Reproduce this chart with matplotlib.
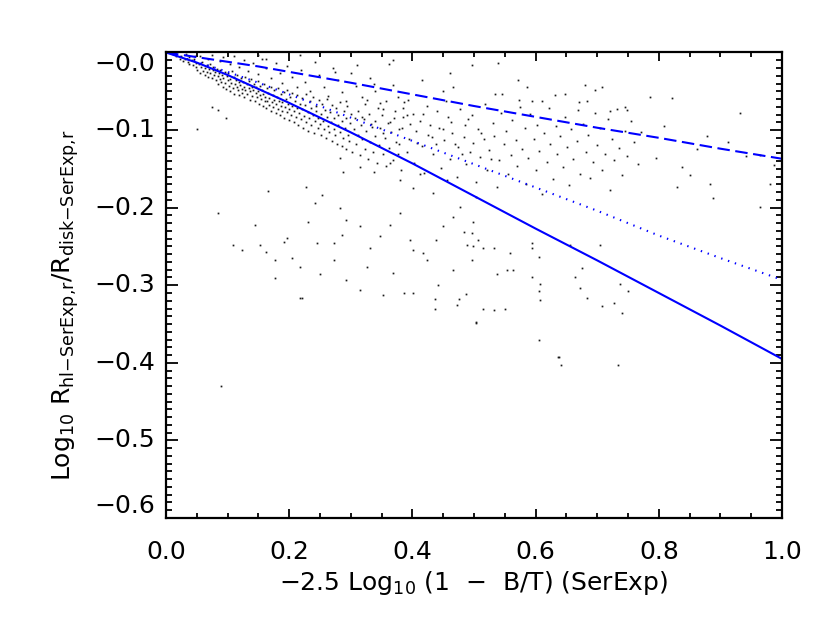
import numpy as np
import matplotlib
matplotlib.use("Agg")
import matplotlib.pyplot as plt
import matplotlib.transforms as mtransforms

plt.rcParams["font.family"] = ["DejaVu Sans"]
plt.rcParams["mathtext.fontset"] = "dejavusans"
plt.rcParams["lines.scale_dashes"] = False

# model curves
curve_x = [0.0, 0.05, 0.1, 0.15, 0.2, 0.25, 0.3, 0.4, 0.5, 0.6, 0.7, 0.8, 0.9, 1.0]
solid_y = [0.0, -0.013, -0.029, -0.047, -0.065, -0.084, -0.103, -0.143, -0.185, -0.227, -0.268, -0.310, -0.352, -0.395]
dotted_y = [0.0, -0.012, -0.025, -0.039, -0.054, -0.069, -0.084, -0.114, -0.144, -0.174, -0.204, -0.236, -0.265, -0.293]
dashed_y = [0.0, -0.006, -0.012, -0.018, -0.025, -0.032, -0.039, -0.054, -0.069, -0.083, -0.097, -0.110, -0.124, -0.137]

# galaxies: dense band close to the origin
band_pts = [
    (0.016, -0.004), (0.022, -0.009), (0.025, -0.005), (0.027, -0.011), (0.031, -0.008), (0.035, -0.012),
    (0.037, -0.006), (0.038, -0.015), (0.042, -0.010), (0.044, -0.016), (0.046, -0.008), (0.048, -0.019),
    (0.049, -0.013),
    (0.051, -0.022), (0.054, -0.015), (0.055, -0.026), (0.057, -0.019), (0.059, -0.012), (0.060, -0.024),
    (0.063, -0.020), (0.063, -0.029), (0.066, -0.016), (0.067, -0.025), (0.068, -0.031), (0.070, -0.021),
    (0.072, -0.015), (0.072, -0.027), (0.075, -0.033), (0.076, -0.022), (0.077, -0.019), (0.078, -0.029),
    (0.080, -0.025),
    (0.081, -0.036), (0.082, -0.021), (0.084, -0.030), (0.084, -0.041), (0.086, -0.026), (0.088, -0.034),
    (0.088, -0.022), (0.090, -0.038), (0.091, -0.029), (0.093, -0.044), (0.093, -0.033), (0.095, -0.025),
    (0.096, -0.039), (0.097, -0.047), (0.099, -0.030), (0.100, -0.036), (0.101, -0.027), (0.102, -0.043),
    (0.104, -0.050), (0.104, -0.034), (0.106, -0.039), (0.107, -0.024), (0.108, -0.046), (0.110, -0.031),
    (0.111, -0.053), (0.112, -0.040), (0.113, -0.036), (0.115, -0.044), (0.116, -0.029), (0.117, -0.049),
    (0.118, -0.038), (0.119, -0.055), (0.120, -0.042),
    (0.121, -0.033), (0.123, -0.047), (0.123, -0.052), (0.125, -0.038), (0.126, -0.044), (0.127, -0.058),
    (0.129, -0.031), (0.129, -0.049), (0.131, -0.041), (0.132, -0.054), (0.134, -0.037), (0.134, -0.046),
    (0.136, -0.061), (0.137, -0.050), (0.138, -0.034), (0.140, -0.044), (0.140, -0.056), (0.142, -0.048),
    (0.143, -0.040), (0.144, -0.063), (0.146, -0.052), (0.146, -0.045), (0.148, -0.058), (0.149, -0.037),
    (0.150, -0.050), (0.151, -0.066), (0.153, -0.055), (0.153, -0.043), (0.155, -0.060), (0.156, -0.048),
    (0.157, -0.069), (0.158, -0.053), (0.159, -0.041), (0.160, -0.062),
    (0.161, -0.057), (0.162, -0.071), (0.164, -0.046), (0.164, -0.063), (0.166, -0.052), (0.167, -0.068),
    (0.168, -0.059), (0.170, -0.075), (0.170, -0.044), (0.172, -0.064), (0.173, -0.055), (0.174, -0.070),
    (0.176, -0.049), (0.176, -0.061), (0.178, -0.078), (0.179, -0.066), (0.180, -0.057), (0.182, -0.073),
    (0.182, -0.046), (0.184, -0.062), (0.185, -0.081), (0.186, -0.069), (0.187, -0.054), (0.189, -0.075),
    (0.189, -0.064), (0.191, -0.051), (0.192, -0.084), (0.193, -0.070), (0.194, -0.060), (0.196, -0.077),
    (0.196, -0.048), (0.198, -0.066), (0.199, -0.087), (0.200, -0.073),
    (0.201, -0.058), (0.203, -0.080), (0.204, -0.069), (0.205, -0.052), (0.207, -0.090), (0.208, -0.075),
    (0.209, -0.063), (0.211, -0.083), (0.212, -0.071), (0.213, -0.055), (0.215, -0.094), (0.216, -0.078),
    (0.217, -0.066), (0.219, -0.086), (0.220, -0.059), (0.221, -0.073), (0.223, -0.097), (0.224, -0.082),
    (0.226, -0.068), (0.227, -0.089), (0.228, -0.053), (0.230, -0.077), (0.231, -0.101), (0.232, -0.085),
    (0.234, -0.063), (0.235, -0.072), (0.236, -0.093), (0.238, -0.080), (0.239, -0.058), (0.240, -0.104),
    (0.242, -0.088), (0.243, -0.069), (0.244, -0.076), (0.246, -0.097), (0.247, -0.084), (0.248, -0.061),
    (0.250, -0.092),
    (0.251, -0.079), (0.252, -0.107), (0.254, -0.066), (0.255, -0.088), (0.256, -0.099), (0.258, -0.074),
    (0.259, -0.110), (0.261, -0.083), (0.262, -0.060), (0.263, -0.095), (0.265, -0.103), (0.266, -0.077),
    (0.268, -0.089), (0.269, -0.114), (0.270, -0.068), (0.272, -0.099), (0.273, -0.084), (0.275, -0.106),
    (0.276, -0.072), (0.277, -0.118), (0.279, -0.093), (0.280, -0.081), (0.282, -0.102), (0.283, -0.064),
    (0.285, -0.121), (0.286, -0.088), (0.287, -0.110), (0.289, -0.076), (0.290, -0.097), (0.292, -0.125),
    (0.293, -0.085), (0.294, -0.069), (0.296, -0.106), (0.297, -0.114), (0.299, -0.091), (0.300, -0.079),
    (0.302, -0.128), (0.305, -0.099), (0.306, -0.084), (0.309, -0.118), (0.311, -0.107), (0.312, -0.075),
    (0.315, -0.132), (0.317, -0.093), (0.318, -0.112), (0.321, -0.086), (0.323, -0.124), (0.325, -0.101),
    (0.328, -0.137), (0.330, -0.079), (0.331, -0.115), (0.334, -0.096), (0.336, -0.128), (0.339, -0.108),
    (0.340, -0.088), (0.343, -0.142), (0.345, -0.119), (0.348, -0.097), (0.350, -0.081), (0.352, -0.131),
    (0.355, -0.110), (0.357, -0.146), (0.360, -0.091), (0.362, -0.123), (0.365, -0.103), (0.368, -0.138),
    (0.370, -0.085), (0.373, -0.116), (0.376, -0.131), (0.378, -0.098), (0.381, -0.151),
]

# galaxies above the band, under and around the dashed curve
upper_pts = [
    (0.032, -0.002), (0.047, -0.005), (0.056, -0.004), (0.068, -0.008), (0.074, -0.003), (0.088, -0.011),
    (0.093, -0.006), (0.104, -0.015), (0.111, -0.005), (0.118, -0.019), (0.127, -0.010), (0.133, -0.024),
    (0.141, -0.014), (0.149, -0.028), (0.156, -0.008), (0.163, -0.020), (0.171, -0.033), (0.178, -0.013),
    (0.185, -0.027), (0.189, -0.039), (0.197, -0.017), (0.204, -0.031), (0.212, -0.045), (0.219, -0.022),
    (0.226, -0.038), (0.233, -0.050), (0.242, -0.012), (0.248, -0.029), (0.257, -0.044), (0.263, -0.056),
    (0.271, -0.020), (0.279, -0.036), (0.286, -0.051), (0.293, -0.062), (0.301, -0.026), (0.309, -0.043),
    (0.318, -0.058), (0.323, -0.067), (0.331, -0.033), (0.339, -0.050), (0.347, -0.065), (0.353, -0.073),
    (0.362, -0.015), (0.368, -0.042), (0.377, -0.057), (0.384, -0.071), (0.391, -0.080),
    (0.150, -0.003), (0.163, -0.008), (0.218, -0.003), (0.310, -0.016), (0.369, -0.010), (0.461, -0.027),
    (0.466, -0.044), (0.496, -0.016), (0.450, -0.050), (0.415, -0.035), (0.393, -0.061), (0.274, -0.025),
    (0.337, -0.040), (0.539, -0.014), (0.572, -0.035), (0.586, -0.044), (0.680, -0.042), (0.708, -0.044),
    (0.697, -0.048), (0.786, -0.057), (0.821, -0.059), (0.534, -0.053), (0.545, -0.053), (0.631, -0.055),
    (0.648, -0.053), (0.594, -0.063), (0.575, -0.070), (0.610, -0.063), (0.745, -0.070), (0.748, -0.074),
    (0.721, -0.076), (0.669, -0.074), (0.683, -0.063), (0.932, -0.078),
]

# galaxies in the broad cloud at larger bulge fraction
cloud_pts = [
    (0.383, -0.097), (0.387, -0.064), (0.392, -0.128), (0.394, -0.111), (0.401, -0.079), (0.403, -0.142),
    (0.406, -0.101), (0.413, -0.088), (0.415, -0.121), (0.419, -0.155), (0.424, -0.069), (0.426, -0.107),
    (0.429, -0.094), (0.434, -0.131), (0.438, -0.118), (0.440, -0.076), (0.447, -0.149), (0.449, -0.098),
    (0.452, -0.113), (0.455, -0.062), (0.461, -0.137), (0.463, -0.089), (0.465, -0.104), (0.472, -0.161),
    (0.474, -0.122), (0.478, -0.073), (0.483, -0.109), (0.485, -0.094), (0.487, -0.144), (0.494, -0.128),
    (0.497, -0.081), (0.499, -0.117), (0.504, -0.167), (0.507, -0.099), (0.510, -0.135), (0.516, -0.112),
    (0.518, -0.066), (0.521, -0.152), (0.525, -0.126), (0.531, -0.091), (0.533, -0.108), (0.538, -0.174),
    (0.540, -0.139), (0.543, -0.078), (0.549, -0.118), (0.552, -0.101), (0.555, -0.157), (0.560, -0.132),
    (0.561, -0.087), (0.568, -0.113), (0.570, -0.146), (0.573, -0.061), (0.578, -0.124), (0.582, -0.097),
    (0.585, -0.169), (0.588, -0.136), (0.591, -0.079), (0.597, -0.112), (0.600, -0.151), (0.603, -0.093),
    (0.606, -0.127), (0.611, -0.183), (0.614, -0.104), (0.618, -0.141), (0.621, -0.072), (0.624, -0.118),
    (0.628, -0.163), (0.633, -0.095), (0.635, -0.131), (0.640, -0.108), (0.644, -0.147), (0.647, -0.083),
    (0.651, -0.122), (0.654, -0.171), (0.658, -0.099), (0.661, -0.137), (0.667, -0.114), (0.670, -0.064),
    (0.672, -0.156), (0.677, -0.092), (0.681, -0.128), (0.685, -0.106), (0.688, -0.162), (0.693, -0.141),
    (0.696, -0.078), (0.700, -0.119), (0.705, -0.097), (0.707, -0.152), (0.712, -0.131), (0.717, -0.086),
    (0.720, -0.177), (0.724, -0.111), (0.728, -0.139), (0.732, -0.073), (0.736, -0.123), (0.741, -0.158),
    (0.745, -0.101), (0.749, -0.134), (0.755, -0.088), (0.759, -0.116), (0.766, -0.144), (0.771, -0.103),
    (0.318, -0.083), (0.326, -0.061), (0.333, -0.092), (0.344, -0.071), (0.352, -0.104), (0.357, -0.063),
    (0.363, -0.089), (0.372, -0.075), (0.378, -0.118), (0.385, -0.083), (0.396, -0.092), (0.408, -0.117),
    (0.417, -0.079), (0.431, -0.109), (0.443, -0.097), (0.458, -0.083), (0.469, -0.118), (0.481, -0.131),
    (0.491, -0.086), (0.512, -0.104), (0.527, -0.137),
    (0.964, -0.199), (0.838, -0.147), (0.883, -0.169), (0.888, -0.188), (0.981, -0.169), (0.987, -0.145),
    (0.964, -0.132), (0.851, -0.158), (0.795, -0.136), (0.829, -0.173), (0.878, -0.108), (0.942, -0.134),
    (0.808, -0.095), (0.862, -0.125), (0.912, -0.116),
]

# scattered galaxies below the solid curve
lower_pts = [
    (0.074, -0.070), (0.085, -0.074), (0.098, -0.085), (0.050, -0.098), (0.166, -0.179), (0.085, -0.207),
    (0.144, -0.222), (0.109, -0.248), (0.123, -0.254), (0.153, -0.248), (0.163, -0.257), (0.177, -0.267),
    (0.191, -0.244), (0.204, -0.265), (0.218, -0.276), (0.177, -0.291), (0.196, -0.239), (0.231, -0.218),
    (0.242, -0.194), (0.253, -0.184), (0.228, -0.173), (0.282, -0.201), (0.293, -0.216), (0.285, -0.235),
    (0.315, -0.224), (0.331, -0.252), (0.347, -0.237), (0.364, -0.222), (0.380, -0.207), (0.396, -0.242),
    (0.401, -0.254), (0.418, -0.259), (0.423, -0.267), (0.439, -0.242), (0.450, -0.224), (0.466, -0.212),
    (0.483, -0.231), (0.488, -0.248), (0.496, -0.267), (0.466, -0.280), (0.442, -0.300), (0.401, -0.310),
    (0.218, -0.317), (0.369, -0.284), (0.326, -0.276), (0.272, -0.267), (0.250, -0.285), (0.293, -0.293),
    (0.315, -0.306), (0.245, -0.246), (0.272, -0.246), (0.477, -0.199), (0.504, -0.186), (0.282, -0.136),
    (0.288, -0.154), (0.315, -0.147), (0.337, -0.154), (0.364, -0.143), (0.380, -0.164), (0.401, -0.175),
    (0.412, -0.156), (0.434, -0.181), (0.456, -0.164), (0.499, -0.218), (0.507, -0.242), (0.515, -0.252),
    (0.532, -0.252), (0.558, -0.259), (0.537, -0.285), (0.553, -0.280), (0.563, -0.280), (0.515, -0.330),
    (0.532, -0.332), (0.550, -0.330), (0.504, -0.347), (0.594, -0.246), (0.594, -0.252), (0.605, -0.263),
    (0.594, -0.289), (0.607, -0.298), (0.605, -0.308), (0.607, -0.319), (0.656, -0.248), (0.664, -0.289),
    (0.672, -0.304), (0.675, -0.278), (0.683, -0.317), (0.705, -0.248), (0.708, -0.327), (0.727, -0.323),
    (0.740, -0.336), (0.750, -0.308), (0.737, -0.298), (0.605, -0.370), (0.637, -0.392), (0.496, -0.233),
    (0.499, -0.250), (0.638, -0.393), (0.641, -0.403), (0.733, -0.403), (0.089, -0.430), (0.220, -0.316),
    (0.353, -0.313), (0.386, -0.310), (0.437, -0.318), (0.437, -0.330), (0.473, -0.325), (0.476, -0.318),
    (0.487, -0.311), (0.504, -0.349),
]

xticks = [0.0, 0.2, 0.4, 0.6, 0.8, 1.0]
yticks = [0.0, -0.1, -0.2, -0.3, -0.4, -0.5, -0.6]

pts = np.array(band_pts + upper_pts + cloud_pts + lower_pts)

fig = plt.figure(figsize=(8.3, 6.24), dpi=100)
ax = fig.add_axes([0.2, 0.1699, 0.7422, 0.7460])

ax.plot(pts[:, 0], pts[:, 1], "s", color="#1a1a1a", ms=1.25, mew=0, ls="none")

blue = "#0000ff"
ax.plot(curve_x, solid_y, color=blue, lw=1.5)
ax.plot(curve_x, dotted_y, color=blue, lw=1.5, dashes=(1.0, 4.2))
ax.plot(curve_x, dashed_y, color=blue, lw=1.5, dashes=(9.0, 4.0))

ax.set_xlim(0, 1)
ax.set_ylim(-0.6, 0.0)
ax.set_xticks(xticks)
ax.set_xticks(np.arange(0, 1.0001, 0.05), minor=True)
ax.set_xticklabels([f"{v:.1f}" for v in xticks])
ax.set_yticks(yticks)
ax.set_yticks(np.arange(-0.6, 0.0001, 0.01), minor=True)
ax.set_yticklabels([])

for s in ax.spines.values():
    s.set_linewidth(1.6)
ax.tick_params(axis="both", which="both", direction="in", top=True, right=True, width=1.3, labelsize=18)
ax.tick_params(axis="x", which="major", length=6.5, pad=16)
ax.tick_params(axis="x", which="minor", length=3.4)
ax.tick_params(axis="y", which="major", length=8.8)
ax.tick_params(axis="y", which="minor", length=4.5)

# y labels drawn by hand: the end labels sit inside the axis range
trans = mtransforms.blended_transform_factory(ax.transAxes, ax.transData)
for i, v in enumerate(yticks):
    va = "center"
    if i == 0:
        va = "top"
    elif i == len(yticks) - 1:
        va = "bottom"
    ax.text(-0.018, v, f"\u2212{abs(v):.1f}", transform=trans, ha="right", va=va, fontsize=18)

fig.text(474 / 830, 1 - 583 / 624, "\u22122.5 Log$_{10}$ (1  \u2212  B/T) (SerExp)",
         ha="center", va="center", fontsize=18)
fig.text(66 / 830, 1 - 305 / 624,
         r"Log$_{10}$ R$_{\mathrm{hl{-}SerExp{,}r}}$/R$_{\mathrm{disk{-}SerExp{,}r}}$",
         ha="center", va="center", rotation=90, fontsize=18)

fig.savefig("out.png", dpi=100)
